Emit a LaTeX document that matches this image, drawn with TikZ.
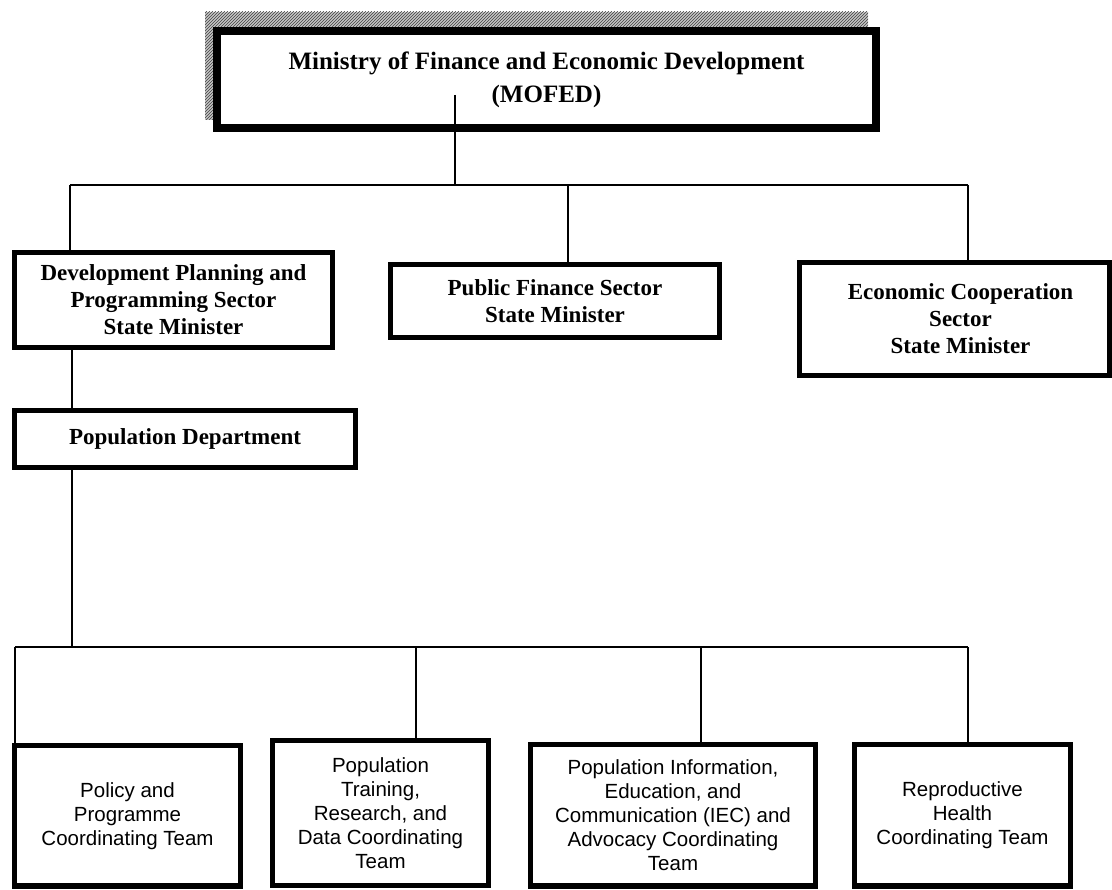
\documentclass[tikz,border=0pt]{standalone}
\usepackage{fontspec}
\setmainfont{Liberation Serif}
\setsansfont{Liberation Sans}
\usetikzlibrary{patterns}
\begin{document}
\begin{tikzpicture}[x=1pt,y=-1pt,
  headbox/.style={draw, line width=5.5pt, fill=white, inner sep=0pt, align=center,
    font=\bfseries\fontsize{23}{27}\selectfont},
  teambox/.style={draw, line width=5.5pt, fill=white, inner sep=0pt, align=center,
    font=\sffamily\fontsize{20.5}{24}\selectfont},
  link/.style={line width=2.2pt}]
\useasboundingbox (0,0) rectangle (1112,890);
% shadow of top box
\fill[gray!45] (205,12) rectangle (868,120);
\fill[pattern=north east lines, pattern color=black!75] (205,12) rectangle (868,120);
\node[headbox, line width=8pt, minimum width=659pt, minimum height=97pt,
  font=\bfseries\fontsize{25}{33}\selectfont] (top) at (546.5,79.5)
  {Ministry of Finance and Economic Development\\(MOFED)};
\node[headbox, minimum width=318pt, minimum height=95pt] (dp) at (173.5,300)
  {Development Planning and\\Programming Sector\\State Minister};
\node[headbox, minimum width=329pt, minimum height=73pt] (pf) at (555,301)
  {Public Finance Sector\\State Minister};
\node[headbox, minimum width=310pt, minimum height=113pt] (ec) at (954.5,319)
  {\hspace*{12pt}Economic Cooperation\\\hspace*{12pt}Sector\\\hspace*{12pt}State Minister};
\node[headbox, minimum width=341pt, minimum height=57pt] (pd) at (185,439)
  {Population Department};
\node[teambox, minimum width=226pt, minimum height=140.5pt] (pol) at (127.5,815.75)
  {Policy and\\Programme\\Coordinating Team};
\node[teambox, minimum width=216pt, minimum height=145pt] (ptr) at (380.5,813)
  {Population\\Training,\\Research, and\\Data Coordinating\\Team};
\node[teambox, minimum width=285pt, minimum height=141.5pt] (iec) at (673,815.25)
  {Population Information,\\Education, and\\Communication (IEC) and\\Advocacy Coordinating\\Team};
\node[teambox, minimum width=216pt, minimum height=141.5pt] (rh) at (962.5,815.25)
  {Reproductive\\Health\\Coordinating Team};
% junction coordinates
\coordinate (tstart) at (455,95);
\coordinate (busA) at (455,185);
\coordinate (jdp) at (70,185);
\coordinate (jpf) at (568,185);
\coordinate (jec) at (968,185);
\coordinate (jpd) at (72,350);
\coordinate (busB) at (72,647);
\coordinate (jpol) at (15,647);
\coordinate (jptr) at (416,647);
\coordinate (jiec) at (701,647);
\coordinate (jrh) at (968,647);
% connectors
\draw[link] (tstart) -- (busA);
\draw[link] (jdp) -- (jec);
\draw[link] (jdp) -- (jdp|-dp.north);
\draw[link] (jpf) -- (jpf|-pf.north);
\draw[link] (jec) -- (jec|-ec.north);
\draw[link] (jpd|-dp.south) -- (jpd|-pd.north);
\draw[link] (jpd|-pd.south) -- (busB);
\draw[link] (jpol) -- (jrh);
\draw[link] (jpol) -- (jpol|-pol.north);
\draw[link] (jptr) -- (jptr|-ptr.north);
\draw[link] (jiec) -- (jiec|-iec.north);
\draw[link] (jrh) -- (jrh|-rh.north);
\end{tikzpicture}
\end{document}
